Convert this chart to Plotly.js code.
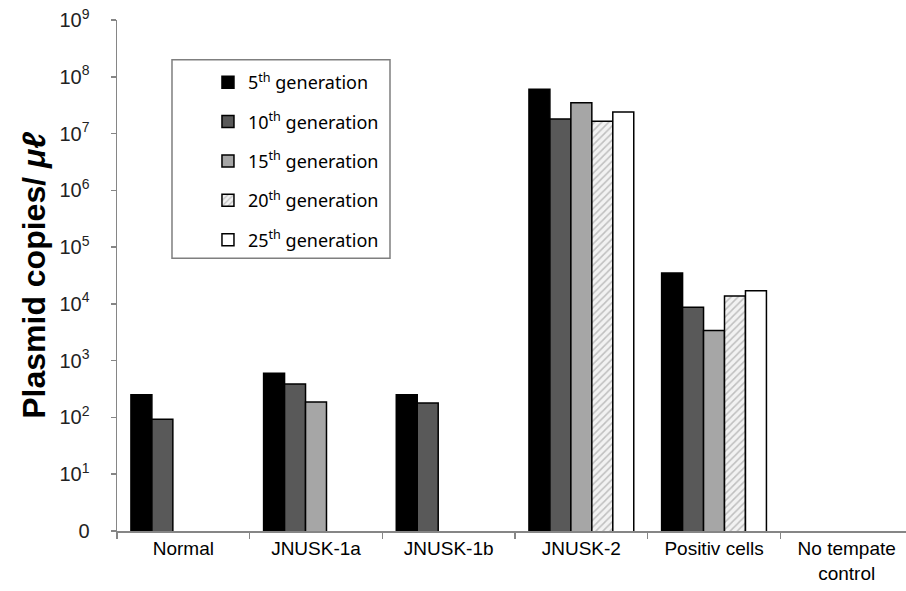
<!DOCTYPE html>
<html>
<head>
<meta charset="utf-8">
<script src="https://cdn.plot.ly/plotly-3.0.1.min.js"></script>
<style>html,body{margin:0;padding:0;background:#fff}#chart{width:906px;height:591px}</style>
</head>
<body>
<div id="chart"></div>
<script>
var categories = ['Normal', 'JNUSK-1a', 'JNUSK-1b', 'JNUSK-2', 'Positiv cells', 'No tempate<br>control'];
var seriesNames = ['5<sup>th</sup> generation', '10<sup>th</sup> generation', '15<sup>th</sup> generation', '20<sup>th</sup> generation', '25<sup>th</sup> generation'];
var gen5  = [250, 600, 250, 6.0e7, 3.5e4, null];
var gen10 = [93, 390, 180, 1.8e7, 8.7e3, null];
var gen15 = [null, 187, null, 3.5e7, 3.4e3, null];
var gen20 = [null, null, null, 1.65e7, 1.38e4, null];
var gen25 = [null, null, null, 2.4e7, 1.7e4, null];
var yTickVals = [1, 10, 100, 1e3, 1e4, 1e5, 1e6, 1e7, 1e8, 1e9];
var yTickText = ['0', '10<sup>1</sup>', '10<sup>2</sup>', '10<sup>3</sup>', '10<sup>4</sup>', '10<sup>5</sup>', '10<sup>6</sup>', '10<sup>7</sup>', '10<sup>8</sup>', '10<sup>9</sup>'];

var allSeries = [gen5, gen10, gen15, gen20, gen25];
var fills = ['#000000', '#595959', '#a6a6a6', '#ffffff', '#ffffff'];
var traces = allSeries.map(function (vals, i) {
  var marker = {color: fills[i], line: {color: '#000000', width: 1.5}};
  if (i === 3) {
    marker.pattern = {shape: '/', fgcolor: '#bfbfbf', bgcolor: '#f2f2f2', size: 5, solidity: 0.3};
  }
  return {
    type: 'bar',
    name: seriesNames[i],
    x: categories,
    y: vals,
    marker: marker,
    legendgroup: 'g' + i
  };
});

var layout = {
  width: 906, height: 591,
  margin: {l: 117, r: 0, t: 20, b: 60},
  paper_bgcolor: '#ffffff', plot_bgcolor: '#ffffff',
  barmode: 'group', bargap: 0.21, bargroupgap: 0,
  showlegend: true,
  legend: {
    x: 0.1153, xanchor: 'left', y: 0.914, yanchor: 'top',
    bgcolor: 'rgba(0,0,0,0)', borderwidth: 0,
    font: {family: 'Noto Sans, sans-serif', size: 18, color: '#000'},
    tracegroupgap: 13, traceorder: 'grouped'
  },
  xaxis: {
    type: 'category', range: [-0.5, 5.447],
    showline: true, linecolor: '#868686', linewidth: 1.5,
    ticks: 'outside', tickson: 'boundaries', ticklen: 6, tickcolor: '#868686', tickwidth: 1.5,
    tickfont: {family: 'Liberation Sans, Arial, sans-serif', size: 19, color: '#000'},
    showgrid: false, zeroline: false, fixedrange: true
  },
  yaxis: {
    type: 'log', range: [0, 9],
    tickvals: yTickVals, ticktext: yTickText,
    showline: true, linecolor: '#868686', linewidth: 1.5,
    ticks: 'outside', ticklen: 5, tickcolor: '#868686', tickwidth: 1.5,
    ticklabelstandoff: 17,
    tickfont: {family: 'Liberation Sans, Arial, sans-serif', size: 20, color: '#222'},
    showgrid: false, zeroline: false,
    title: {text: '<b>Plasmid copies/ <i>μℓ</i></b>', font: {family: 'Liberation Sans, Arial, sans-serif', size: 32, color: '#000'}, standoff: 4}
  },
  shapes: [{
    type: 'rect', xref: 'paper', yref: 'paper',
    x0: 0.0697, x1: 0.346, y0: 0.534, y1: 0.922,
    line: {color: '#7f7f7f', width: 1.5}, fillcolor: 'rgba(0,0,0,0)'
  }]
};

Plotly.newPlot('chart', traces, layout, {displayModeBar: false, staticPlot: true});
</script>
</body>
</html>
